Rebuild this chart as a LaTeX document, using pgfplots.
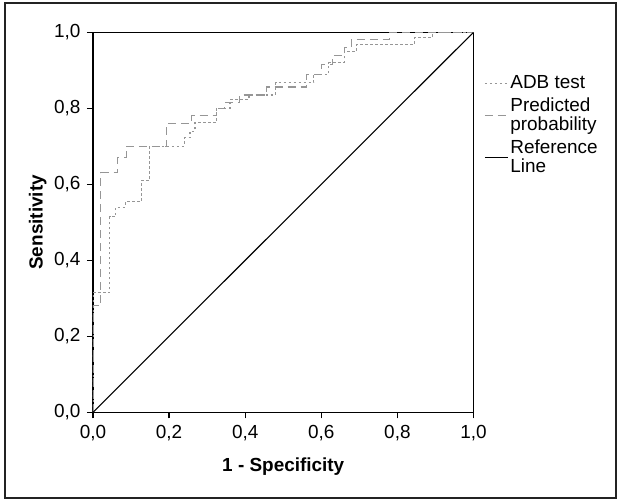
\documentclass[border=0pt]{standalone}
\usepackage{fontspec}
\setmainfont{Liberation Sans}
\usepackage{pgfplots}
\pgfplotsset{compat=1.18}
\definecolor{curvegray}{RGB}{150,150,150}
\definecolor{framec}{RGB}{35,35,35}
\begin{document}
\fontsize{19}{21}\selectfont
\begin{tikzpicture}
\path[fill=white] (-93bp,-88.7bp) rectangle (528bp,412.3bp);
\draw[line width=2.6bp, framec] (-88bp,-85.7bp) rectangle (523bp,409.3bp);
\begin{axis}[
  at={(0,0)}, anchor=south west,
  scale only axis, width=380.5bp, height=380bp,
  xmin=0, xmax=1, ymin=0, ymax=1,
  xtick={0,0.2,0.4,0.6,0.8,1},
  xticklabels={{0,0},{0,2},{0,4},{0,6},{0,8},{1,0}},
  ytick={0,0.2,0.4,0.6,0.8,1},
  yticklabels={{0,0},{0,2},{0,4},{0,6},{0,8},{1,0}},
  tick align=outside, xtick pos=bottom, ytick pos=left,
  major tick length=6bp,
  axis line style={line width=1.2bp, black},
  tick style={line width=1.2bp, black},
  font=\fontsize{19}{21}\selectfont,
  xlabel={\bfseries 1 - Specificity},
  ylabel={\bfseries Sensitivity},
  xlabel style={at={(axis description cs:0.5,-0.142)}, anchor=center},
  ylabel style={at={(axis description cs:-0.145,0.5)}, anchor=center},
  legend style={at={(1.02,0.897)}, anchor=north west, draw=none, fill=none,
    font=\fontsize{19}{19}\selectfont, cells={align=left}, row sep=2.5bp},
  legend cell align=left,
  legend image code/.code={\draw[#1] (0bp,0bp) -- (23bp,0bp);},
]
\addplot[curvegray, line width=1.1bp, dash pattern=on 2.5bp off 2.5bp] coordinates {
(0,0) (0,0.315) (0.044,0.315) (0.044,0.515) (0.06,0.515) (0.06,0.54)
(0.085,0.54) (0.085,0.555) (0.127,0.555) (0.127,0.61) (0.149,0.61)
(0.149,0.70) (0.241,0.70) (0.241,0.722) (0.255,0.722) (0.255,0.74)
(0.268,0.74) (0.268,0.762) (0.325,0.762) (0.325,0.80) (0.36,0.80)
(0.36,0.823) (0.41,0.823) (0.41,0.835) (0.48,0.835) (0.48,0.867)
(0.58,0.867) (0.58,0.89) (0.62,0.89) (0.62,0.92) (0.66,0.92) (0.66,0.95)
(0.692,0.95) (0.692,0.968) (0.845,0.968) (0.845,0.986) (0.892,0.986)
(0.892,1) (1,1)};
\addlegendentry{ADB test}
\addplot[curvegray, line width=1.1bp, dash pattern=on 8bp off 5bp] coordinates {
(0,0) (0,0.28) (0.02,0.28) (0.02,0.63) (0.064,0.63) (0.064,0.67)
(0.087,0.67) (0.087,0.70) (0.193,0.70) (0.193,0.76) (0.259,0.76)
(0.259,0.78) (0.325,0.78) (0.325,0.80) (0.346,0.80) (0.346,0.815)
(0.386,0.815) (0.386,0.835) (0.456,0.835) (0.456,0.856) (0.561,0.856)
(0.561,0.889) (0.60,0.889) (0.60,0.915) (0.63,0.915) (0.63,0.94)
(0.66,0.94) (0.66,0.96) (0.679,0.96) (0.679,0.982) (0.78,0.982)
(0.78,1) (1,1)};
\addlegendentry{Predicted\\probability}
\addplot[black, line width=1.1bp] coordinates {(0,0) (1,1)};
\addlegendentry{Reference\\Line}
\end{axis}
\end{tikzpicture}
\end{document}
